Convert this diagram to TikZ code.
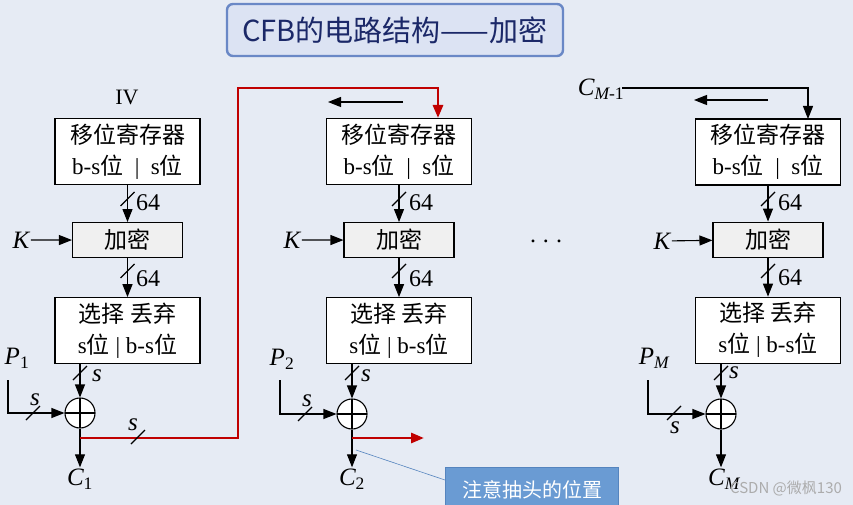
\documentclass[tikz,border=0pt]{standalone}
\usepackage{fontspec}
\setmainfont{Liberation Serif}
\newfontfamily\cjk{Noto Sans CJK SC}
\usepackage{tikz}
\usetikzlibrary{positioning,arrows.meta}
\definecolor{bgcol}{HTML}{E6EBF4}
\definecolor{titlefill}{HTML}{DCE3F3}
\definecolor{titleline}{HTML}{6A88C6}
\definecolor{titletext}{HTML}{1B2868}
\definecolor{tapred}{HTML}{C00000}
\definecolor{notefill}{HTML}{6A9BD3}
\definecolor{noteline}{HTML}{5584BE}
\newcommand\zh[1]{{\cjk #1}}
\newcommand\busmark[1]{\draw #1 ++(-7,7) -- ++(14,-14);}

\begin{document}
\begin{tikzpicture}[x=1pt,y=-1pt,line width=1.1pt,
  regbox/.style={draw, fill=white, minimum width=145pt, minimum height=66pt, align=center, inner sep=2pt, font=\fontsize{23}{31}\selectfont},
  encbox/.style={draw, fill=gray!12, minimum width=110pt, minimum height=35pt, inner sep=2pt, font=\fontsize{23}{26}\selectfont},
  xorc/.style={draw, circle, fill=white, minimum size=30pt, inner sep=0pt,
    path picture={\draw (path picture bounding box.north) -- (path picture bounding box.south)
      (path picture bounding box.west) -- (path picture bounding box.east);}},
  arr/.style={-{Triangle[length=13pt,width=10pt]}},
  fb/.style={draw=tapred, line width=2.8pt},
  lbl/.style={font=\fontsize{25}{25}\selectfont\itshape, inner sep=1pt},
  num/.style={font=\fontsize{24}{24}\selectfont, inner sep=1pt}]
\useasboundingbox (0,0) rectangle (853,505);
\fill[bgcol] (0,0) rectangle (853,505);

% title
\node[draw=titleline, line width=2.4pt, fill=titlefill, rounded corners=6pt, minimum width=336pt, minimum height=52pt,
  text=titletext, font=\cjk\fontsize{29}{29}\selectfont] (title) at (395,30) {CFB的电路结构——加密};

% first stage
\node[regbox] (sr1) at (127.5,151.5) {\zh{移位寄存器}\\b-s\zh{位}\ \ |\ \ s\zh{位}};
\node[encbox, below=37pt of sr1] (enc1) {\zh{加密}};
\node[regbox, below=39pt of enc1] (sel1) {\zh{选择\ 丢弃}\\s\zh{位} | b-s\zh{位}};
\node[num, font=\fontsize{22}{22}\selectfont] (iv1) at (127,97) {IV};
\node[lbl] (k1) at (21,240) {K};
\node[xorc] (xor1) at (80,413) {};
\node[lbl] (p1) at (17,358) {P\textsubscript{\upshape 1}};
\node[lbl] (c1) at (80,479) {C\textsubscript{\upshape 1}};
\coordinate (p1c) at (8,380);
\coordinate (tap1) at (80,438);

\draw[arr] (sr1) -- (enc1);
\draw[arr] (enc1) -- (sel1);
\draw[arr] (k1) -- (enc1);
\draw[arr] (sel1.south -| xor1) -- (xor1);
\draw[arr] (p1c) |- (xor1);
\draw[arr] (xor1) -- (xor1 |- c1.north);
\busmark{(127.5,199)} \node[num] at (148,203) {64};
\busmark{(127.5,271)} \node[num] at (148,279) {64};
\busmark{(80,373)} \node[lbl] at (97,376) {s};
\busmark{(33,413)} \node[lbl] at (35,400) {s};

% feedback of C1 into the second register
\coordinate (in2) at (438,118);
\draw[fb, -{Triangle[length=13pt,width=10pt]}] (tap1) -| (238,88) -| (in2);
\busmark{(138,437)} \node[lbl] at (133,425) {s};

% second stage
\node[regbox] (sr2) at (399,151.5) {\zh{移位寄存器}\\b-s\zh{位}\ \ |\ \ s\zh{位}};
\node[encbox, below=37pt of sr2] (enc2) {\zh{加密}};
\node[regbox, below=39pt of enc2] (sel2) {\zh{选择\ 丢弃}\\s\zh{位} | b-s\zh{位}};
\node[lbl] (k2) at (292,240) {K};
\node[xorc] (xor2) at (352,414) {};
\node[lbl] (p2) at (282,359) {P\textsubscript{\upshape 2}};
\node[lbl] (c2) at (352,479) {C\textsubscript{\upshape 2}};
\coordinate (sh2a) at (403,102);
\coordinate (sh2b) at (328,102);
\coordinate (p2c) at (280,380);
\coordinate (tap2) at (352,438);
\coordinate (out2) at (424,438);

\draw[arr] (sh2a) -- (sh2b);
\draw[arr] (sr2) -- (enc2);
\draw[arr] (enc2) -- (sel2);
\draw[arr] (k2) -- (enc2);
\draw[arr] (sel2.south -| xor2) -- (xor2);
\draw[arr] (p2c) |- (xor2);
\draw[arr] (xor2) -- (xor2 |- c2.north);
\draw[fb, -{Triangle[length=13pt,width=10pt]}] (tap2) -- (out2);
\busmark{(399,199)} \node[num] at (421,203) {64};
\busmark{(399,271)} \node[num] at (421,279) {64};
\busmark{(352,373)} \node[lbl] at (366,376) {s};
\busmark{(305,414)} \node[lbl] at (307,401) {s};

% note
\node[draw=noteline, fill=notefill, text=white, minimum width=173pt, minimum height=45pt, anchor=north west,
  font=\cjk\fontsize{20}{20}\selectfont] (note) at (445,467) {注意抽头的位置};
\coordinate (tap2b) at (356,450);
\draw[noteline, line width=0.6pt] (tap2b) -- ([yshift=-13pt]note.north west);

\node[num] (dots) at (546,241) {.\hspace{7pt}.\hspace{7pt}.};

% last stage
\node[regbox] (sr3) at (768,152) {\zh{移位寄存器}\\b-s\zh{位}\ \ |\ \ s\zh{位}};
\node[encbox, below=36pt of sr3] (enc3) {\zh{加密}};
\node[regbox, below=39pt of enc3] (sel3) {\zh{选择\ 丢弃}\\s\zh{位} | b-s\zh{位}};
\node[lbl] (cm1) at (601,89) {C\textsubscript{M\upshape -1}};
\node[lbl] (k3) at (662,241) {K};
\node[xorc] (xor3) at (721,414) {};
\node[lbl] (p3) at (654,358) {P\textsubscript{M}};
\node[lbl] (c3) at (724,479) {C\textsubscript{M}};
\coordinate (cm1o) at (622,88);
\coordinate (in3) at (808,119);
\coordinate (sh3a) at (768,100);
\coordinate (sh3b) at (694,100);
\coordinate (p3c) at (648,380);

\draw[arr] (cm1o) -| (in3);
\draw[arr] (sh3a) -- (sh3b);
\draw[arr] (sr3) -- (enc3);
\draw[arr] (enc3) -- (sel3);
\draw[arr] (k3) -- (enc3);
\draw[arr] (sel3.south -| xor3) -- (xor3);
\draw[arr] (p3c) |- (xor3);
\draw[arr] (xor3) -- (xor3 |- c3.north);
\busmark{(768,199)} \node[num] at (790,203) {64};
\busmark{(768,271)} \node[num] at (790,278) {64};
\busmark{(721,373)} \node[lbl] at (734,373) {s};
\busmark{(674,413)} \node[lbl] at (675,428) {s};

\node[text=gray!65, font=\cjk\fontsize{15}{15}\selectfont] (wm) at (786,488) {CSDN @微枫130};
\end{tikzpicture}
\end{document}
